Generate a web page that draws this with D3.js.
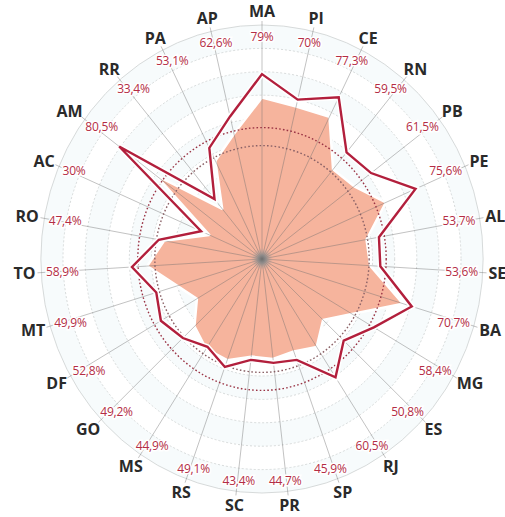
<!DOCTYPE html>
<html>
<head>
<meta charset="utf-8">
<script src="https://cdn.jsdelivr.net/npm/d3@7"></script>
<style>
  html, body { margin: 0; padding: 0; background: #ffffff; }
  svg { display: block; }
</style>
</head>
<body>
<svg id="chart" width="505" height="517"></svg>
<script>
// States, clockwise from the top
const states = ["MA","PI","CE","RN","PB","PE","AL","SE","BA","MG","ES","RJ","SP","PR","SC","RS","MS","GO","DF","MT","TO","RO","AC","AM","RR","PA","AP"];
// Outlined series (labelled values, %)
const lineValues = [79,70,77.3,59.5,61.5,75.6,53.7,53.6,70.7,58.4,50.8,60.5,45.9,44.7,43.4,49.1,44.9,49.2,52.8,49.9,58.9,47.4,30,80.5,33.4,53.1,62.6];
// Filled series (%)
const areaValues = [69,67,68,50,52,61,48,49,66.5,47,38,45,42,43,42,46,46,42,34,40,52,45,26,60,28,47,55];
// Grid rings (%)
const ringTicks = [10,20,30,40,50,60,70,80,90,100];

const W = 505, H = 517;
const cx = 262, cy = 259;
const R = 234;          // radius of 100%
const kx = 0.945;       // horizontal squeeze of the dial
const labelPctR = 229;  // outer edge of the value labels
const labelStateR = 240;// inner edge of the state labels

const svg = d3.select("#chart");
const r = d3.scaleLinear().domain([0, 100]).range([0, R]);
const ang = d3.scaleLinear().domain([0, states.length]).range([0, 2 * Math.PI]);

const ptxy = (i, rad) => {
  const a = ang(i);
  return [cx + kx * rad * Math.sin(a), cy - rad * Math.cos(a)];
};

const br = d3.formatLocale({decimal: ",", thousands: ".", grouping: [3], currency: ["R$", ""]});
const fmt = v => br.format(".1~f")(v) + "%";

const defs = svg.append("defs");
const rg = defs.append("radialGradient").attr("id", "hub");
rg.append("stop").attr("offset", "0%").attr("stop-color", "#6f6f6f").attr("stop-opacity", 1);
rg.append("stop").attr("offset", "35%").attr("stop-color", "#8a8a8a").attr("stop-opacity", 0.9);
rg.append("stop").attr("offset", "100%").attr("stop-color", "#b0a09a").attr("stop-opacity", 0);

// faint bands behind the grid
const bands = svg.append("g");
ringTicks.forEach((t, k) => {
  if (k % 2 === 1) {
    const outer = r(t), inner = r(t - 10);
    bands.append("path")
      .attr("d", `M${cx - kx * outer},${cy} a${kx * outer},${outer} 0 1,0 ${2 * kx * outer},0 a${kx * outer},${outer} 0 1,0 ${-2 * kx * outer},0 Z ` +
                 `M${cx - kx * inner},${cy} a${kx * inner},${inner} 0 1,1 ${2 * kx * inner},0 a${kx * inner},${inner} 0 1,1 ${-2 * kx * inner},0 Z`)
      .attr("fill", "#f7fbfc")
      .attr("fill-rule", "evenodd");
  }
});

// grid rings
svg.append("g").selectAll("ellipse").data(ringTicks).join("ellipse")
  .attr("cx", cx).attr("cy", cy)
  .attr("rx", d => kx * r(d)).attr("ry", d => r(d))
  .attr("fill", "none")
  .attr("stroke", "#d3d6d6")
  .attr("stroke-width", 0.9)
  .attr("stroke-dasharray", d => d === 100 ? null : "2,2");

// filled series
const radial = d3.line().curve(d3.curveLinearClosed);
svg.append("path")
  .attr("d", radial(areaValues.map((v, i) => ptxy(i, r(v)))))
  .attr("fill", "#f6b49d")
  .attr("stroke", "#ffffff")
  .attr("stroke-width", 2.5)
  .attr("stroke-linejoin", "round");

// spokes
svg.append("g").selectAll("line").data(states).join("line")
  .attr("x1", cx).attr("y1", cy)
  .attr("x2", (d, i) => ptxy(i, labelStateR - 2)[0])
  .attr("y2", (d, i) => ptxy(i, labelStateR - 2)[1])
  .attr("stroke", "rgba(110,110,110,0.42)")
  .attr("stroke-width", 1);

// mean rings of both series
const means = [d3.mean(areaValues), d3.mean(lineValues)];
svg.append("g").selectAll("ellipse").data(means).join("ellipse")
  .attr("cx", cx).attr("cy", cy)
  .attr("rx", d => kx * r(d)).attr("ry", d => r(d))
  .attr("fill", "none")
  .attr("stroke", (d, i) => i === 0 ? "#8a6166" : "#9a3344")
  .attr("stroke-width", 1.4)
  .attr("stroke-dasharray", "1.6,2.2");

// outlined series: white halo then crimson line
const linePts = lineValues.map((v, i) => ptxy(i, r(v)));
svg.append("path")
  .attr("d", radial(linePts))
  .attr("fill", "none")
  .attr("stroke", "#ffffff")
  .attr("stroke-width", 5.5)
  .attr("stroke-linejoin", "miter");
svg.append("path")
  .attr("d", radial(linePts))
  .attr("fill", "none")
  .attr("stroke", "#b21f3c")
  .attr("stroke-width", 2.4)
  .attr("stroke-linejoin", "miter");

// hub
svg.append("circle").attr("cx", cx).attr("cy", cy).attr("r", 11).attr("fill", "url(#hub)");

// value labels, sitting on their spokes with the outer edge on a fixed ring
const pctG = svg.append("g");
states.forEach((s, i) => {
  const a = ang(i);
  const t = pctG.append("text")
    .text(fmt(lineValues[i]))
    .attr("font-family", "'Open Sans', 'Liberation Sans', sans-serif")
    .attr("font-size", 12)
    .attr("letter-spacing", -0.2)
    .attr("fill", "#b42d45")
    .attr("stroke", "#ffffff")
    .attr("stroke-width", 3)
    .attr("paint-order", "stroke")
    .attr("text-anchor", "middle")
    .attr("dominant-baseline", "central");
  const bb = t.node().getBBox();
  const [px, py] = ptxy(i, labelPctR);
  t.attr("x", px - Math.sin(a) * bb.width / 2)
   .attr("y", py + Math.cos(a) * bb.height / 2 * 0.75);
});

// state labels outside the dial
const stG = svg.append("g");
states.forEach((s, i) => {
  const a = ang(i);
  const t = stG.append("text")
    .text(s)
    .attr("font-family", "'Open Sans', 'Liberation Sans', sans-serif")
    .attr("font-weight", 700)
    .attr("font-size", 16)
    .attr("fill", "#2a2a2a")
    .attr("text-anchor", "middle")
    .attr("dominant-baseline", "central");
  const bb = t.node().getBBox();
  const [px, py] = ptxy(i, labelStateR);
  t.attr("x", px + Math.sin(a) * bb.width / 2)
   .attr("y", py - Math.cos(a) * bb.height / 2 * 0.7);
});
</script>
</body>
</html>
